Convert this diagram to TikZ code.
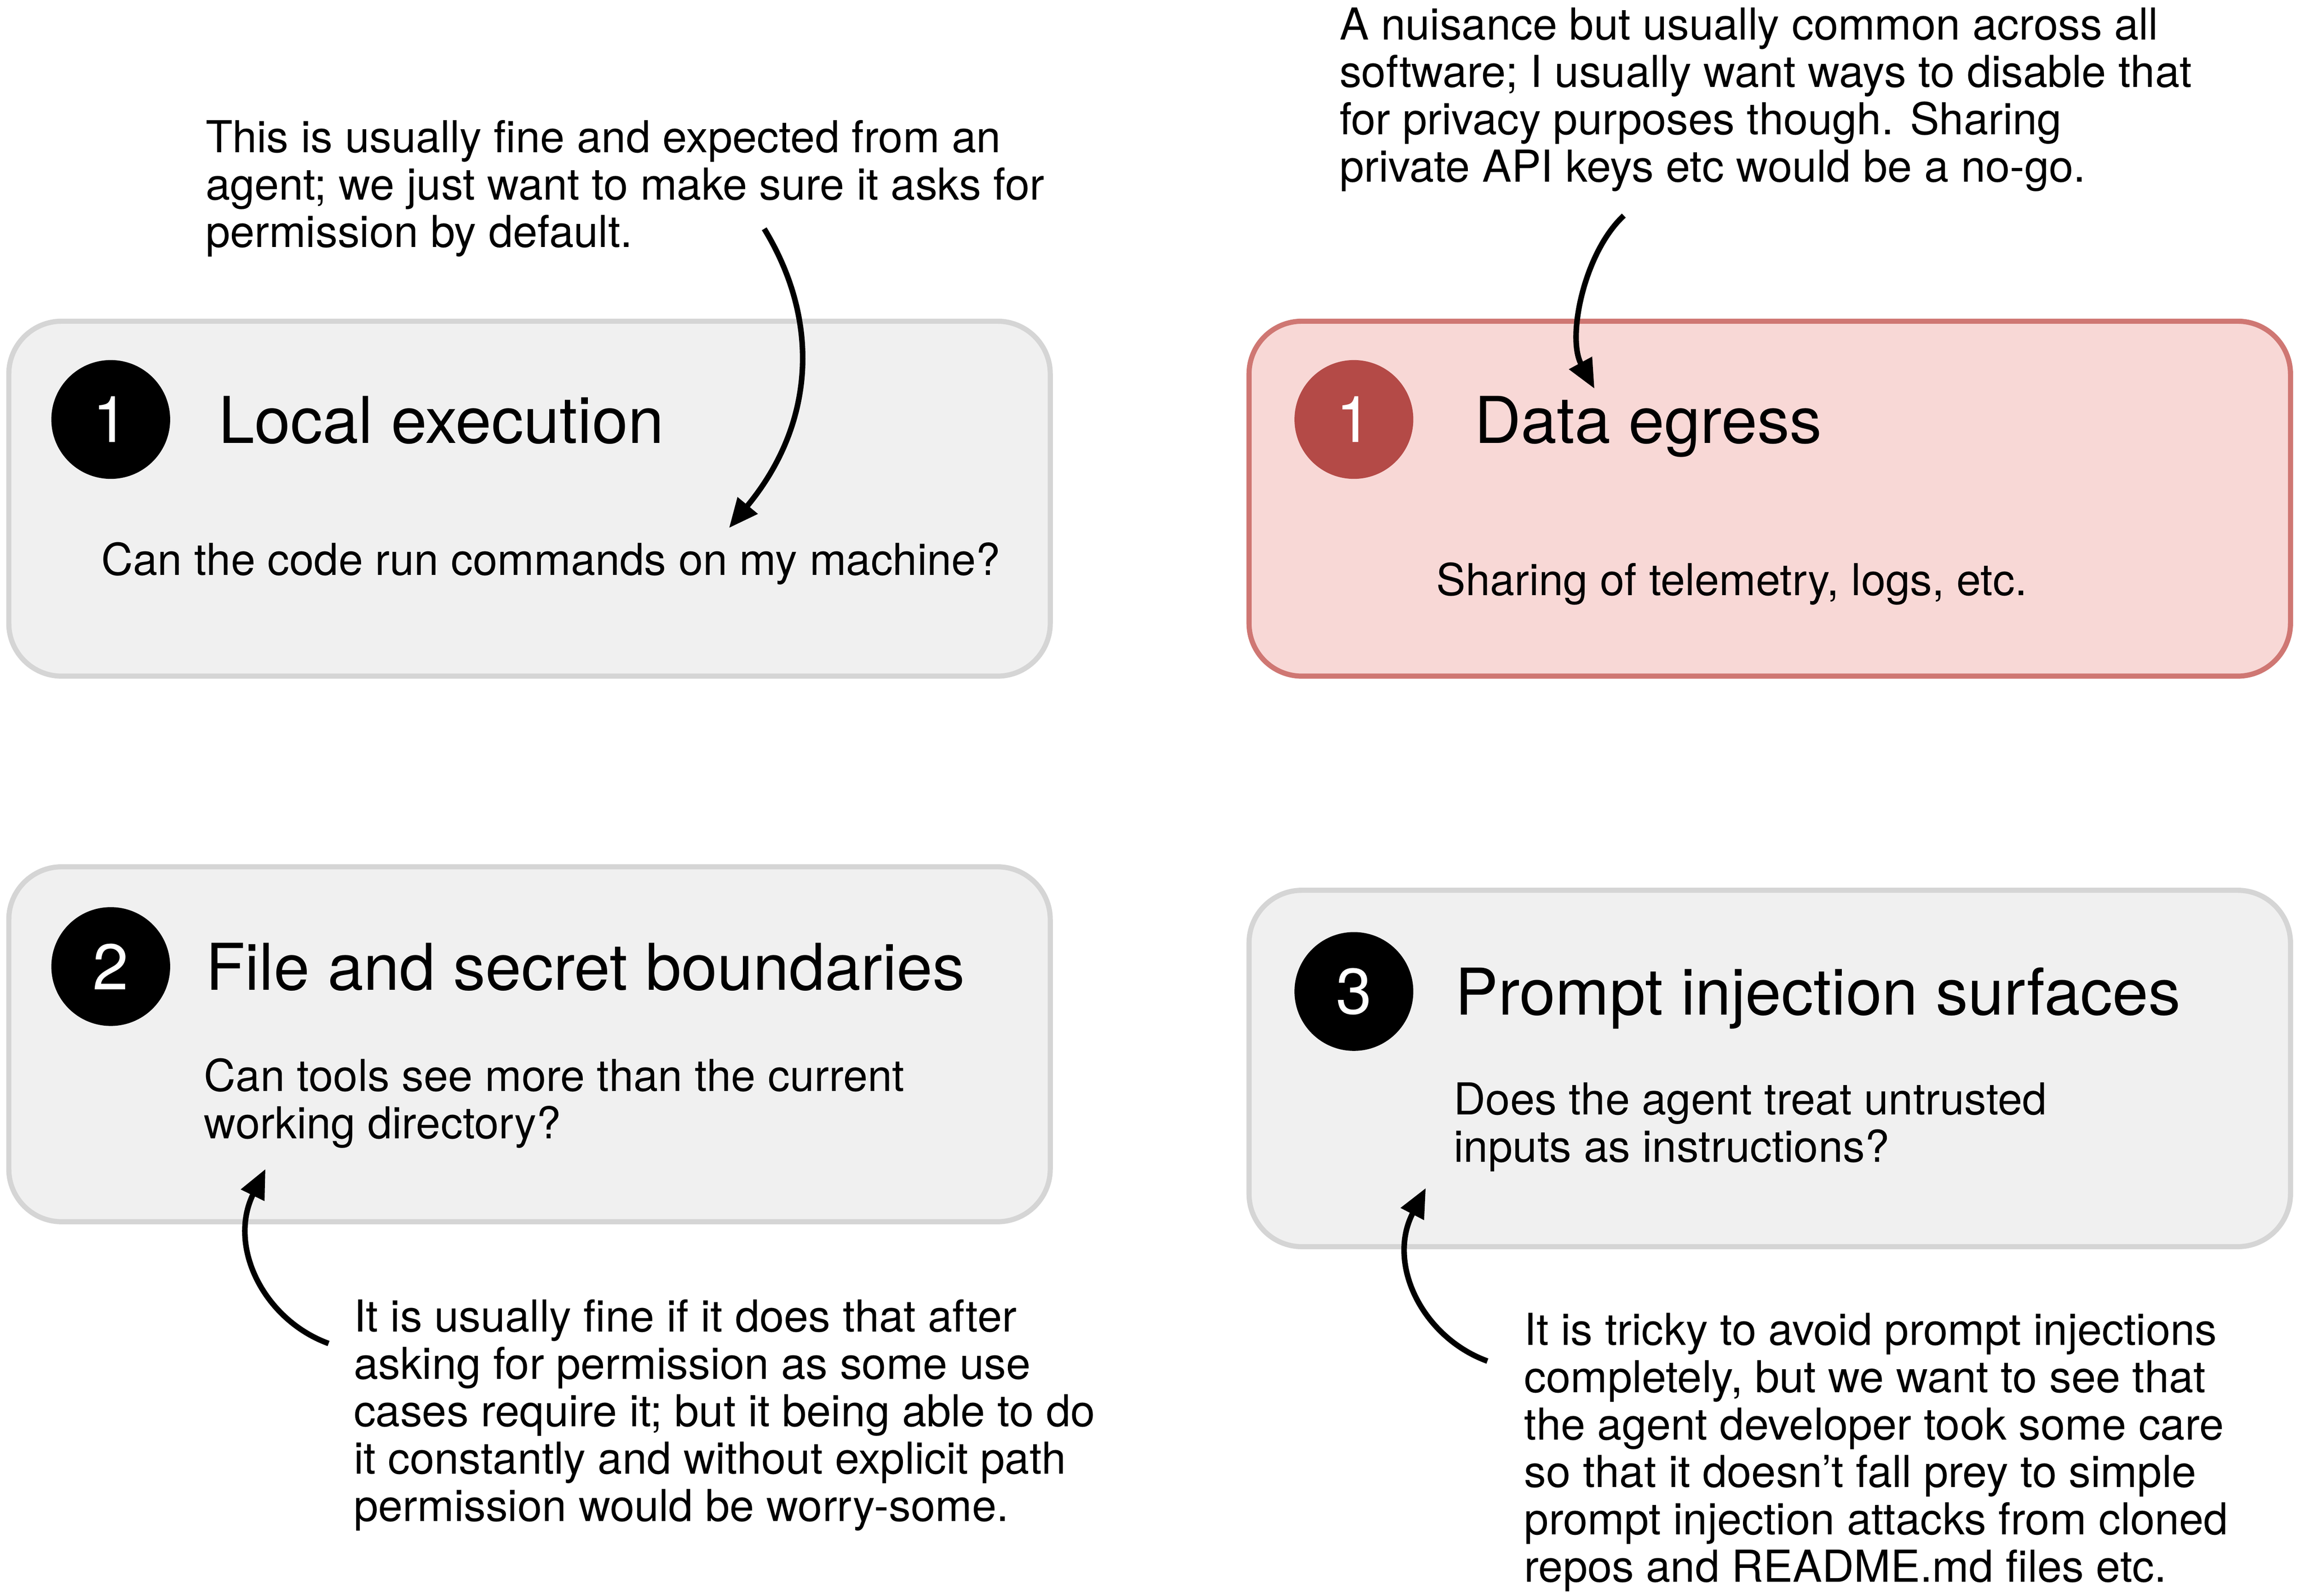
\documentclass[tikz,border=0pt]{standalone}
\usepackage{fontspec}
\setmainfont{TeX Gyre Heros}
\usetikzlibrary{arrows.meta}
\definecolor{boxgray}{HTML}{F0F0F0}
\definecolor{linegray}{HTML}{D5D5D5}
\definecolor{boxpink}{HTML}{F8D8D6}
\definecolor{linepink}{HTML}{CF7773}
\definecolor{numred}{HTML}{B44A47}
\begin{document}
\begin{tikzpicture}[x=1pt,y=-1pt]
            \tikzset{
                card/.style={draw=linegray,fill=boxgray,line width=3.5pt,rounded corners=36pt,minimum height=242pt,minimum width=710pt,inner sep=0pt},
                redcard/.style={card,draw=linepink,fill=boxpink},
                num/.style={circle,fill=black,text=white,minimum size=81pt,inner sep=0pt,font=\fontsize{44}{50}\selectfont},
                heading/.style={anchor=base west,inner sep=0pt,font=\fontsize{44}{50}\selectfont},
                txt/.style={anchor=base west,inner sep=0pt,align=left,font=\fontsize{30}{32.3}\selectfont},
                note/.style={line width=3.8pt,-{Triangle[length=20pt,width=17pt]}},}
            \useasboundingbox (0,0) rectangle (1568,1088);
            % top left (base of a text = its last line)
            \node [card] (box1) at (361,340) {};
            \node [num] (num1) at (75.5,286) {1};
            \node [heading] (title1) at (149,302) {Local execution};
            \node [txt] (body1) at (69,392) {Can the code run commands on my machine?};
            \node [txt] (text1) at (140,168.6) {This is usually fine and expected from an\\agent; we just want to make sure it asks for\\permission by default.};
            % top right
            \node [redcard] (box2) at (1206.5,340) {};
            \node [num,fill=numred] (num2) at (923,286) {1};
            \node [heading] (title2) at (1005,302) {Data egress};
            \node [txt] (body2) at (979,406) {Sharing of telemetry, logs, etc.};
            \node [txt] (text2) at (913,123.9) {A nuisance but usually common across all\\software; I usually want ways to disable that\\for privacy purposes though. Sharing\\private API keys etc would be a no-go.};
            % bottom left
            \node [card] (box3) at (361,712) {};
            \node [num] (num3) at (75.5,659) {2};
            \node [heading] (title3) at (140,675) {File and secret boundaries};
            \node [txt] (body3) at (139,776.3) {Can tools see more than the current\\working directory?};
            \node [txt] (text3) at (241,1037.2) {It is usually fine if it does that after\\asking for permission as some use\\cases require it; but it being able to do\\it constantly and without explicit path\\permission would be worry-some.};
            % bottom right
            \node [card,minimum height=243pt] (box4) at (1206.5,728.5) {};
            \node [num] (num4) at (923,676) {3};
            \node [heading] (title4) at (992,692) {Prompt injection surfaces};
            \node [txt] (body4) at (991,792.3) {Does the agent treat untrusted\\inputs as instructions?};
            \node [txt] (text4) at (1039,1078.5) {It is tricky to avoid prompt injections\\completely, but we want to see that\\the agent developer took some care\\so that it doesn’t fall prey to simple\\prompt injection attacks from cloned\\repos and README.md files etc.};
            % arrows
            \coordinate (s1) at (521,156); \coordinate (e1) at (497,360);
            \coordinate (s2) at (1107,147); \coordinate (e2) at (1087,265);
            \coordinate (s3) at (224,916); \coordinate (e3) at (181,797);
            \coordinate (s4) at (1014,928); \coordinate (e4) at (972,810);
            \draw [note] (s1) .. controls (560,220) and (555,290) .. (e1);
            \draw [note] (s2) .. controls (1080,172) and (1068,230) .. (e2);
            \draw [note] (s3) .. controls (180,900) and (155,850) .. (e3);
            \draw [note] (s4) .. controls (970,912) and (945,862) .. (e4);
        \end{tikzpicture}
\end{document}
